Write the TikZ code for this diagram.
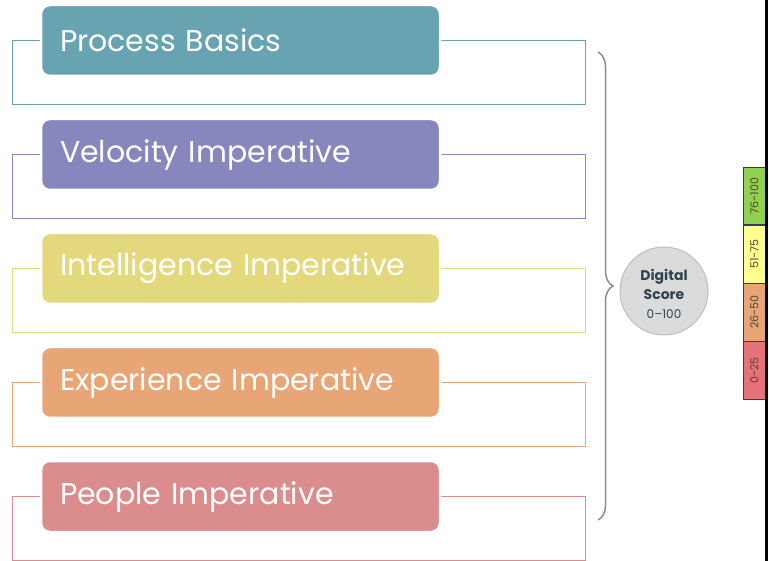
\documentclass[tikz,border=0pt]{standalone}
\usepackage{fontspec}
\setmainfont{Poppins}
\usepackage{xcolor}
\usepackage{tikz}
\usetikzlibrary{
    arrows.meta,
    positioning,
    calc,
    backgrounds,
    decorations.pathreplacing
}
\definecolor{dsbasics}{HTML}{67A3B0}
\definecolor{dsvelocity}{HTML}{8787BE}
\definecolor{dsintel}{HTML}{E4D87C}
\definecolor{dsexper}{HTML}{E8A677}
\definecolor{dspeople}{HTML}{DB8D8D}
\definecolor{dsgray}{HTML}{8C8C8C}
\definecolor{dsdark}{HTML}{2F4250}
\definecolor{bandgreen}{HTML}{92D050}
\definecolor{bandyellow}{HTML}{FFFF8F}
\definecolor{bandorange}{HTML}{E9A577}
\definecolor{bandred}{HTML}{E8727A}
\tikzset{
    % Filled imperative box
    pillarbox/.style={
        rectangle,
        rounded corners=9pt,
        fill=#1,
        draw=white,
        line width=2.5pt,
        text=white,
        font=\fontsize{30}{34}\selectfont,
        minimum width=399pt,
        minimum height=71pt,
        text width=361pt,
        inner xsep=19pt,
        align=left,
        outer sep=0pt
    },
    pillarbox/.default=dsbasics,
    % Open frame behind each box
    pillarframe/.style={
        draw=#1,
        line width=1pt
    },
    % Brace collecting the imperatives
    scorebrace/.style={
        draw=dsgray,
        line width=1.5pt,
        decorate,
        decoration={brace, amplitude=15pt}
    },
    % Score circle
    scorecircle/.style={
        circle,
        fill=gray!28,
        draw=gray!50,
        line width=1pt,
        minimum size=88pt,
        inner sep=0pt,
        align=center,
        text=dsdark,
        font=\fontsize{14}{19}\selectfont
    },
    % Colour band of the score scale
    bandbox/.style={
        rectangle,
        fill=#1,
        draw=gray!75!blue!60!black,
        line width=0.6pt,
        minimum width=22pt,
        minimum height=57.5pt,
        inner sep=0pt,
        text=black!60!olive,
        font=\fontsize{11}{13}\selectfont
    }
}

\begin{document}
\begin{tikzpicture}
    \useasboundingbox (0pt,0pt) rectangle (769pt,-561pt);

    % Imperative boxes
    \node[pillarbox=dsbasics, anchor=north west] (basics) at (41pt,-5pt) {Process Basics};
    \node[pillarbox=dsvelocity, below=43pt of basics] (velocity) {Velocity Imperative};
    \node[pillarbox=dsintel, below=43pt of velocity] (intel) {Intelligence Imperative};
    \node[pillarbox=dsexper, below=43pt of intel] (exper) {Experience Imperative};
    \node[pillarbox=dspeople, below=43pt of exper] (people) {People Imperative};

    % Frames (behind the boxes)
    \begin{scope}[on background layer]
        \draw[pillarframe=dsbasics] ($(basics.west)+(-29pt,0)$) rectangle ($(basics.east)+(145pt,-64pt)$);
        \draw[pillarframe=dsvelocity] ($(velocity.west)+(-29pt,0)$) rectangle ($(velocity.east)+(145pt,-64pt)$);
        \draw[pillarframe=dsintel] ($(intel.west)+(-29pt,0)$) rectangle ($(intel.east)+(145pt,-64pt)$);
        \draw[pillarframe=dsexper] ($(exper.west)+(-29pt,0)$) rectangle ($(exper.east)+(145pt,-64pt)$);
        \draw[pillarframe=dspeople] ($(people.west)+(-29pt,0)$) rectangle ($(people.east)+(145pt,-64pt)$);
    \end{scope}

    % Brace and score
    \coordinate (brace-top) at (598pt,-52pt);
    \coordinate (brace-bot) at (598pt,-520pt);
    \draw[scorebrace] (brace-top) -- (brace-bot);
    \node[scorecircle] (score) at (664pt,-291pt) {};
    \node[scorecircle, draw=none, fill=none, yshift=-3pt] (score-text) at (score)
        {\bfseries Digital\\
         \bfseries Score\\
         \fontsize{12}{19}\selectfont 0--100};

    % Score scale
    \node[bandbox=bandgreen, anchor=north west] (band-top) at (743pt,-167pt) {\rotatebox{90}{76-100}};
    \node[bandbox=bandyellow, below=0pt of band-top] (band-upper) {\rotatebox{90}{51-75}};
    \node[bandbox=bandorange, below=0pt of band-upper] (band-lower) {\rotatebox{90}{26-50}};
    \node[bandbox=bandred, below=0pt of band-lower] (band-low) {\rotatebox{90}{0-25}};

    % Edge rule
    \coordinate (rule-top) at (766.5pt,0pt);
    \coordinate (rule-bot) at (766.5pt,-561pt);
    \draw[line width=3pt] (rule-top) -- (rule-bot);

\end{tikzpicture}
\end{document}
